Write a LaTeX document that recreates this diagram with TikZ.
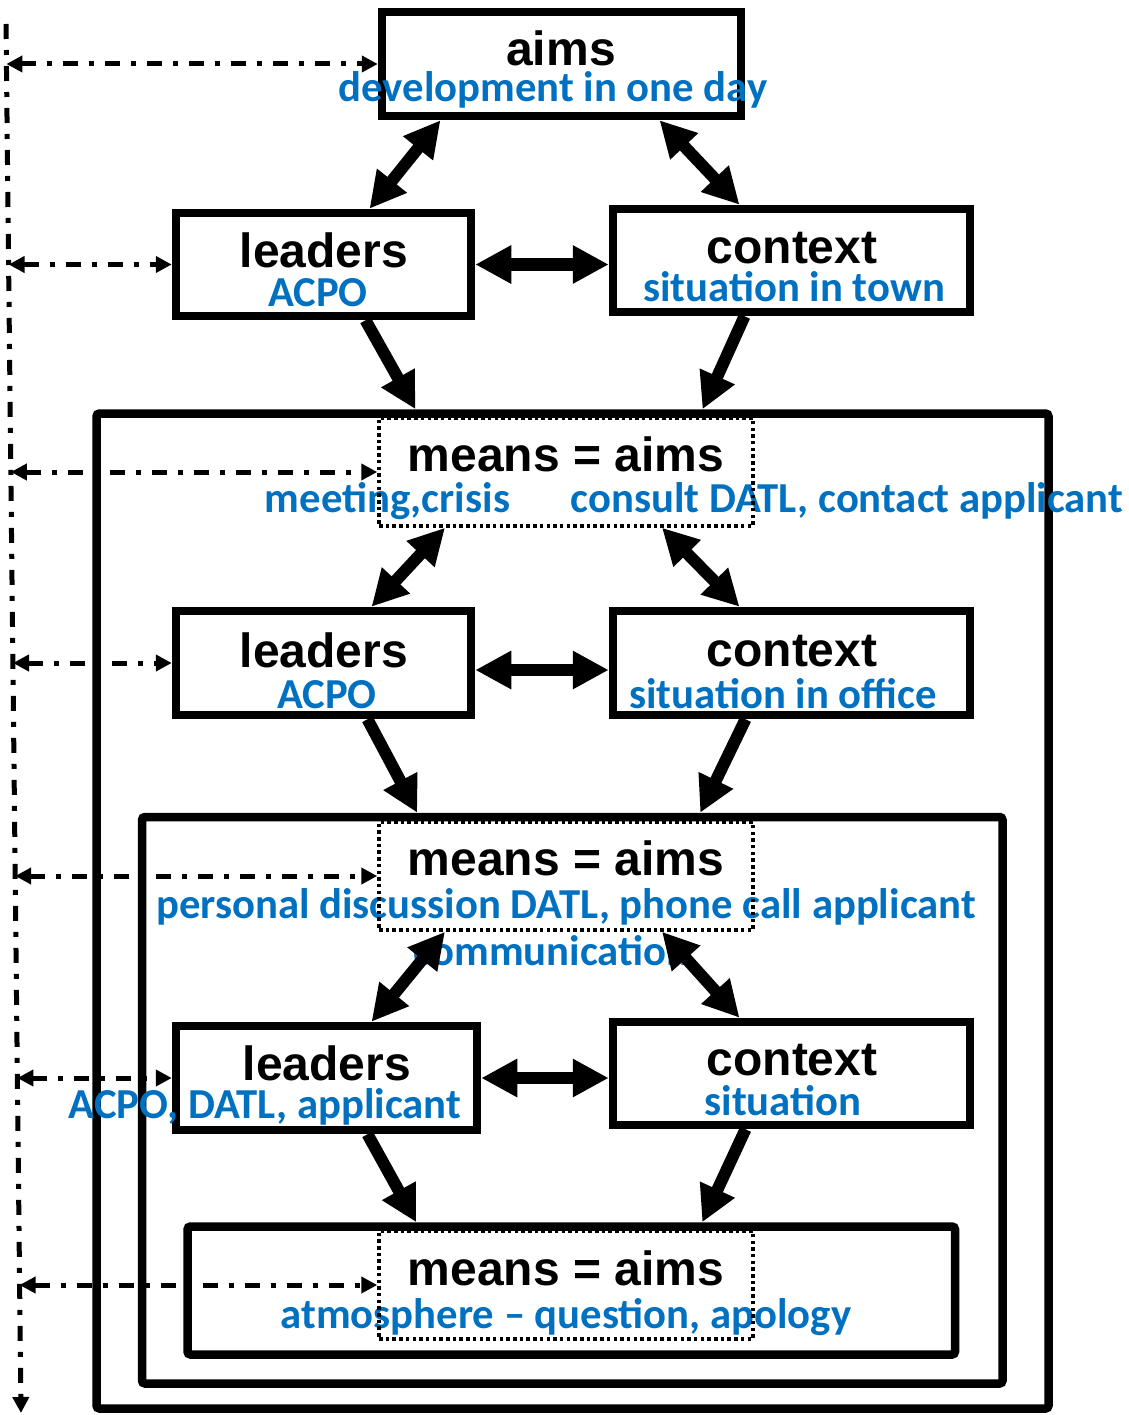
\documentclass[tikz,border=0pt]{standalone}
\usepackage{fontspec}
\setmainfont{Liberation Sans}
\newfontfamily\blufont{Carlito}
\usetikzlibrary{arrows.meta}
\definecolor{tblue}{HTML}{0070C0}
\begin{document}
\begin{tikzpicture}[x=1pt,y=-1pt,
  box/.style={draw, line width=8.5pt, inner sep=0pt},
  frame/.style={draw, line width=8.5pt, rounded corners=3pt, inner sep=0pt},
  dotbox/.style={draw, line width=3.5pt, dash pattern=on 3.5pt off 3.2pt, inner sep=0pt},
  ttl/.style={font=\fontsize{48}{56}\selectfont\bfseries, anchor=base, inner sep=0pt},
  sub/.style={font=\blufont\fontsize{42.7}{50}\selectfont\bfseries, text=tblue, anchor=base, inner sep=0pt},
  big/.style={line width=12pt, {Triangle[length=36pt,width=36pt]}-{Triangle[length=36pt,width=36pt]}},
  one/.style={line width=12pt, -{Triangle[length=36pt,width=36pt]}},
  dd/.style={line width=5pt, dash pattern=on 15pt off 11pt on 5pt off 11pt, {Triangle[length=16pt,width=16pt]}-{Triangle[length=16pt,width=16pt]}},
  ddv/.style={line width=5pt, dash pattern=on 15pt off 11pt on 5pt off 11pt, -{Triangle[length=16pt,width=16pt]}},
]
\fill[white] (0,0) rectangle (1128,1415);
\useasboundingbox (0,0) rectangle (1128,1415);

% solid boxes
\node[box, minimum width=359pt, minimum height=104pt] (aims) at (561.5,64) {};
\node[box, minimum width=295pt, minimum height=103pt] (lead1) at (323.5,264.5) {};
\node[box, minimum width=357pt, minimum height=103pt] (ctx1) at (791.5,260.5) {};
\node[frame, minimum width=952pt, minimum height=995pt] (outer) at (572.5,911) {};
\node[box, minimum width=295pt, minimum height=104pt] (lead2) at (323.5,663) {};
\node[box, minimum width=357pt, minimum height=104pt] (ctx2) at (791.5,663) {};
\node[frame, minimum width=860.5pt, minimum height=566.5pt] (inner2) at (572.25,1100.25) {};
\node[box, minimum width=301pt, minimum height=104pt] (lead3) at (326.5,1078) {};
\node[box, minimum width=357pt, minimum height=103pt] (ctx3) at (791.5,1073.5) {};
\node[frame, minimum width=767.5pt, minimum height=128pt] (inner3) at (571.25,1290.5) {};

% texts
\node[ttl] (t1) at (561,66) {aims};
\node[sub] (s1) at (553,102) {development in one day};
\node[ttl] (t2) at (324,267) {leaders};
\node[sub] (s2) at (318,306) {ACPO};
\node[ttl] (t3) at (792,263) {context};
\node[sub] (s3) at (794,301) {situation in town};
\node[ttl] (t4) at (566,471) {means = aims};
\node[sub] (s4a) at (387.5,512) {meeting,crisis};
\node[sub] (s4b) at (847,512) {consult DATL, contact applicant};
\node[ttl] (t5) at (324,667) {leaders};
\node[sub] (s5) at (327,708) {ACPO};
\node[ttl] (t6) at (792,666) {context};
\node[sub] (s6) at (783,708) {situation in office};
\node[ttl] (t7) at (566,875) {means = aims};
\node[sub] (s7a) at (566,918) {personal discussion DATL, phone call applicant};
\node[sub] (s7b) at (551.5,965) {communication};
\node[ttl] (t8) at (327,1080) {leaders};
\node[sub] (s8) at (265,1118) {ACPO, DATL, applicant};
\node[ttl] (t9) at (792,1075) {context};
\node[sub] (s9) at (783,1115) {situation};
\node[ttl] (t10) at (566,1285) {means = aims};
\node[sub] (s10) at (566,1328) {atmosphere – question, apology};

% dotted boxes
\node[dotbox, minimum width=374pt, minimum height=108pt] (means1) at (566,472) {};
\node[dotbox, minimum width=374pt, minimum height=108pt] (means2) at (566,876) {};
\node[dotbox, minimum width=374pt, minimum height=108pt] (means3) at (566,1285) {};

% thick arrows
\draw[big] ([xshift=-121pt]aims.south) -- ([xshift=46pt]lead1.north);
\draw[big] ([xshift=98pt]aims.south) -- ([xshift=-52pt]ctx1.north);
\draw[big] (lead1.east) -- (lead1.east -| ctx1.west);
\draw[one] ([xshift=42pt]lead1.south) -- ([xshift=-157pt]outer.north);
\draw[one] ([xshift=-47pt]ctx1.south) -- ([xshift=130pt]outer.north);

\draw[big] ([xshift=-121pt]means1.south) -- ([xshift=48pt]lead2.north);
\draw[big] ([xshift=96pt]means1.south) -- ([xshift=-52pt]ctx2.north);
\draw[big] ([yshift=-7pt]lead2.east) -- ([yshift=-7pt]lead2.east -| ctx2.west);
\draw[one] ([xshift=44pt]lead2.south) -- ([xshift=-155pt]inner2.north);
\draw[one] ([xshift=-46pt]ctx2.south) -- ([xshift=128pt]inner2.north);

\draw[big] ([xshift=-121pt]means2.south) -- ([xshift=45pt]lead3.north);
\draw[big] ([xshift=96pt]means2.south) -- ([xshift=-52pt]ctx3.north);
\draw[big] (lead3.east) -- (lead3.east -| ctx3.west);
\draw[one] ([xshift=41pt]lead3.south) -- ([xshift=-155pt]inner3.north);
\draw[one] ([xshift=-46pt]ctx3.south) -- ([xshift=131pt]inner3.north);

% dash-dot feedback lines
\coordinate (vtop) at (6,24);
\coordinate (vbot) at (21,1413);
\coordinate (l1) at (6.4,64);
\coordinate (l2) at (8.6,264.5);
\coordinate (l3) at (10.9,472);
\coordinate (l4) at (13,663);
\coordinate (l5) at (15.2,876);
\coordinate (l6) at (17.4,1078);
\coordinate (l7) at (19.6,1285);
\draw[ddv] (vtop) -- (vbot);
\draw[dd] (l1) -- (aims.west);
\draw[dd] (l2) -- (lead1.west);
\draw[dd] (l3) -- (means1.west);
\draw[dd] (l4) -- (lead2.west);
\draw[dd] (l5) -- (means2.west);
\draw[dd] (l6) -- (lead3.west);
\draw[dd] (l7) -- (means3.west);
\end{tikzpicture}
\end{document}
